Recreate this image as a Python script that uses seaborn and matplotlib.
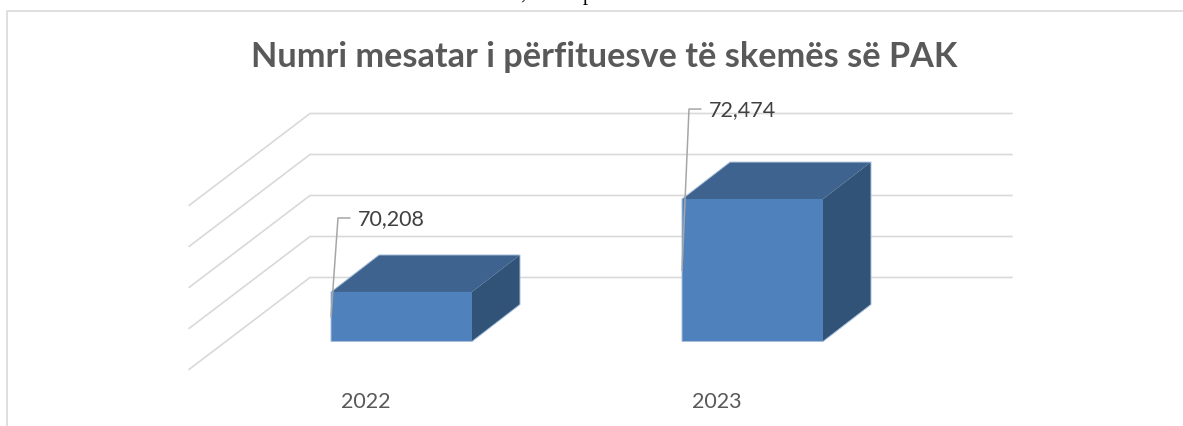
import matplotlib
matplotlib.use('Agg')
import matplotlib.pyplot as plt
from matplotlib.patches import Polygon
from matplotlib.transforms import ScaledTranslation
import pandas as pd
import seaborn as sns

years = ['2022', '2023']
beneficiaries = [70208, 72474]
grid_values = [69000, 70000, 71000, 72000, 73000]
title_text = 'Numri mesatar i përfituesve të skemës së PAK'

W, H, DPI = 1183, 426, 100
BASE_ROW = 341.5  # pixel row of the bars' front base, also the bottom of the axes
PX_PER_UNIT = 0.041
PX_PER_CAT = 351
FIRST_BAR_PX = 401.5

sns.set_theme(style='white')
plt.rcParams['font.family'] = ['Lato', 'DejaVu Sans']

df = pd.DataFrame({'year': years, 'value': beneficiaries})

fig = plt.figure(figsize=(W / DPI, H / DPI), dpi=DPI)
ax = fig.add_axes([0, 1 - BASE_ROW / H, 1, BASE_ROW / H])
ax.set_zorder(1)

sns.barplot(data=df, x='year', y='value', color='#4f81bd', width=141 / PX_PER_CAT,
            saturation=1, linewidth=0, zorder=3, ax=ax)

# value axis starts at the lowest gridline, not at zero
y0 = grid_values[0]
ax.set_xlim(-FIRST_BAR_PX / PX_PER_CAT, (W - FIRST_BAR_PX) / PX_PER_CAT)
ax.set_ylim(y0, y0 + BASE_ROW / PX_PER_UNIT)


def dx(px):
    return px / PX_PER_CAT


def dy(px):
    return px / PX_PER_UNIT


def col(px):
    return (px - FIRST_BAR_PX) / PX_PER_CAT


# 3D walls: gridlines run along the back wall and come forward over the floor
for v in grid_values:
    ax.plot([col(189), col(310), col(1012)], [v - dy(28), v + dy(64), v + dy(64)],
            color='#d9d9d9', lw=1.2, zorder=1, clip_on=False)

# top and side faces of the boxes, built from the seaborn bars
depth_x, depth_y = dx(48), dy(37)
for bar, value in zip(ax.patches[:2], beneficiaries):
    x0, x1 = bar.get_x(), bar.get_x() + bar.get_width()
    base, top = y0, value
    ax.add_patch(Polygon([(x0, top), (x1, top), (x1 + depth_x, top + depth_y), (x0 + depth_x, top + depth_y)],
                         facecolor='#3e638f', edgecolor='none', zorder=2, clip_on=False))
    ax.add_patch(Polygon([(x1, base), (x1, top), (x1 + depth_x, top + depth_y), (x1 + depth_x, base + depth_y)],
                         facecolor='#325378', edgecolor='none', zorder=2, clip_on=False))
    # pale outline round the whole box
    ax.add_patch(Polygon([(x0, base), (x0, top), (x0 + depth_x, top + depth_y), (x1 + depth_x, top + depth_y),
                          (x1 + depth_x, base + depth_y), (x1, base)],
                         facecolor='none', edgecolor='#a9c0dc', lw=0.7, zorder=4, clip_on=False))
    # leader line from the middle of the left edge up to the label
    label_y = top + dy(74 if value < 71000 else 90)
    ax.plot([x0, x0 + dx(7), x0 + dx(19)], [(base + top) / 2, label_y, label_y],
            color='#a6a6a6', lw=1.1, zorder=5)
    ax.annotate(f'{value:,}', (x0 + dx(27), label_y), xytext=(0, -1.5), textcoords='offset pixels',
                ha='left', va='center', fontsize=15.5, color='#404040', zorder=6)

ax.set_xlabel('')
ax.set_ylabel('')
ax.set_yticks([])
ax.set_xticks(range(len(years)), years)
ax.tick_params(axis='x', length=0, pad=36, labelsize=15.5, labelcolor='#595959')
for label in ax.get_xticklabels():
    label.set_transform(label.get_transform() + ScaledTranslation(-36 / DPI, 0, fig.dpi_scale_trans))
sns.despine(ax=ax, left=True, bottom=True)
ax.patch.set_alpha(0)

fig.text(604 / W, 1 - 57 / H, title_text, ha='center', va='center', fontsize=24.7,
         fontweight='bold', color='#595959')

# chart frame: only the top and left edges show in the crop
fig.add_artist(plt.Line2D([7 / W, 7 / W, 1], [0, 1 - 10.5 / H, 1 - 10.5 / H], color='#d9d9d9', lw=1.2))

# scrap of the surrounding document text cut off at the top
fig.text(523 / W, 1 + 1 / H, ',', family='Liberation Serif', fontsize=15, color='black', ha='center', va='baseline')
fig.text(588 / W, 1 - 0 / H, 'p', family='Liberation Serif', fontsize=15, color='black', ha='center', va='baseline')

fig.savefig('out.png', dpi=DPI)
